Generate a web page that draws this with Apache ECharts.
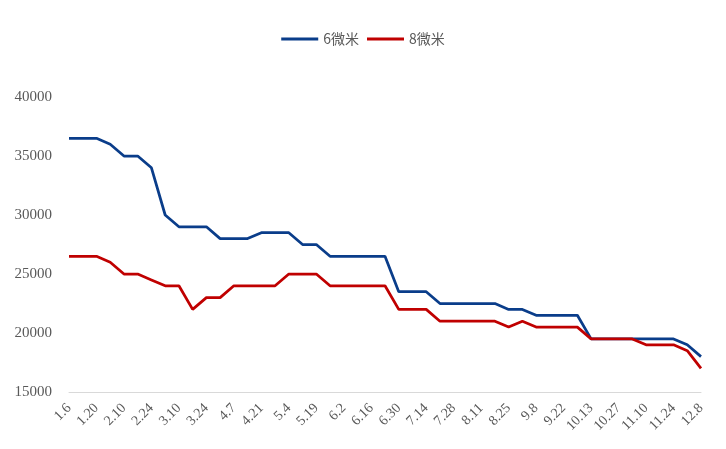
<!DOCTYPE html>
<html><head><meta charset="utf-8">
<script src="https://cdn.jsdelivr.net/npm/echarts@6/dist/echarts.min.js"></script>
<style>html,body{margin:0;padding:0;background:#fff}#c{width:726px;height:449px}</style>
</head><body><div id="c"></div>
<script>
const categories = ['1.6','1.13','1.20','1.27','2.10','2.17','2.24','3.3','3.10','3.17','3.24','3.31','4.7','4.14','4.21','4.28','5.4','5.12','5.19','5.26','6.2','6.9','6.16','6.23','6.30','7.7','7.14','7.21','7.28','8.4','8.11','8.18','8.25','9.1','9.8','9.15','9.22','9.29','10.13','10.20','10.27','11.3','11.10','11.17','11.24','12.1','12.8'];
const series6 = [36500,36500,36500,36000,35000,35000,34000,30000,29000,29000,29000,28000,28000,28000,28500,28500,28500,27500,27500,26500,26500,26500,26500,26500,23500,23500,23500,22500,22500,22500,22500,22500,22000,22000,21500,21500,21500,21500,19500,19500,19500,19500,19500,19500,19500,19000,18000];
const series8 = [26500,26500,26500,26000,25000,25000,24500,24000,24000,22000,23000,23000,24000,24000,24000,24000,25000,25000,25000,24000,24000,24000,24000,24000,22000,22000,22000,21000,21000,21000,21000,21000,20500,21000,20500,20500,20500,20500,19500,19500,19500,19500,19000,19000,19000,18500,17000];
const names = ['6微米','8微米'];
const chart = echarts.init(document.getElementById('c'));
chart.setOption({
  animation:false,
  legend:{top:27,left:'center',itemWidth:37,itemHeight:3,itemGap:8,
    textStyle:{fontFamily:'Noto Sans CJK SC',fontSize:14,color:'#595959'},
    data:names.map(n=>({name:n,icon:'rect'}))},
  grid:{left:69,right:25,top:97,bottom:57},
  xAxis:{type:'category',data:categories,boundaryGap:false,
    axisLine:{lineStyle:{color:'#d9d9d9'}},axisTick:{show:false},
    axisLabel:{interval:1,rotate:45,fontFamily:'Liberation Serif',fontSize:14,color:'#595959',margin:14}},
  yAxis:{type:'value',min:15000,max:40000,interval:5000,
    axisLine:{show:false},axisTick:{show:false},splitLine:{show:false},
    axisLabel:{fontFamily:'Liberation Serif',fontSize:15,color:'#595959',margin:17,formatter:v=>String(v)}},
  series:[
    {name:names[0],type:'line',data:series6,symbol:'none',lineStyle:{color:'#0a3d8a',width:2.75},itemStyle:{color:'#0a3d8a'}},
    {name:names[1],type:'line',data:series8,symbol:'none',lineStyle:{color:'#c00000',width:2.75},itemStyle:{color:'#c00000'}}
  ]
});
</script></body></html>
